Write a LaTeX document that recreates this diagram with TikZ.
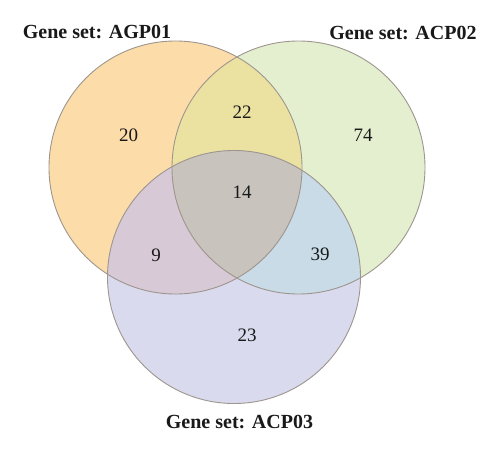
\documentclass[tikz,border=0pt]{standalone}
\usepackage{fontspec}
\setmainfont{Liberation Serif}
\definecolor{cA}{HTML}{FCDDA9}
\definecolor{cB}{HTML}{E3EFCF}
\definecolor{cC}{HTML}{D9DAEE}
\definecolor{cAB}{HTML}{EBE2A2}
\definecolor{cAC}{HTML}{D8C9D6}
\definecolor{cBC}{HTML}{C8DBE6}
\definecolor{cABC}{HTML}{C8C3BC}
\definecolor{edge}{HTML}{9E958E}
\begin{document}
\begin{tikzpicture}[x=1pt,y=-1pt,
  setlabel/.style={font=\bfseries\fontsize{20}{24}\selectfont, anchor=base, inner sep=0pt, text=black!90},
  count/.style={font=\fontsize{19}{22}\selectfont, inner sep=0pt, text=black!90},
  ring/.style={draw=edge, line width=0.9pt}]
\useasboundingbox (0,0) rectangle (500,452);
\def\circA{(175.5,167.5) circle (126.5)}
\def\circB{(298.5,167.5) circle (126.5)}
\def\circC{(234,277) circle (126.5)}
% single sets
\fill[cA] \circA;
\fill[cB] \circB;
\fill[cC] \circC;
% pairwise
\begin{scope}\clip \circA; \fill[cAB] \circB; \end{scope}
\begin{scope}\clip \circA; \fill[cAC] \circC; \end{scope}
\begin{scope}\clip \circB; \fill[cBC] \circC; \end{scope}
\begin{scope}\clip \circA; \clip \circB; \fill[cABC] \circC; \end{scope}
% outlines
\draw[ring] \circA;
\draw[ring] \circB;
\draw[ring] \circC;
% labels
\node[setlabel] (lA) at (97,39) {Gene set: AGP01};
\node[setlabel] (lB) at (403,40) {Gene set: ACP02};
\node[setlabel] (lC) at (239.5,428) {Gene set: ACP03};
% counts
\node[count] (nA) at (128.5,135) {20};
\node[count] (nAB) at (242,112) {22};
\node[count] (nB) at (363,135) {74};
\node[count] (nABC) at (242,192) {14};
\node[count] (nAC) at (156,255) {9};
\node[count] (nBC) at (320,254) {39};
\node[count] (nC) at (247,335) {23};
\end{tikzpicture}
\end{document}
